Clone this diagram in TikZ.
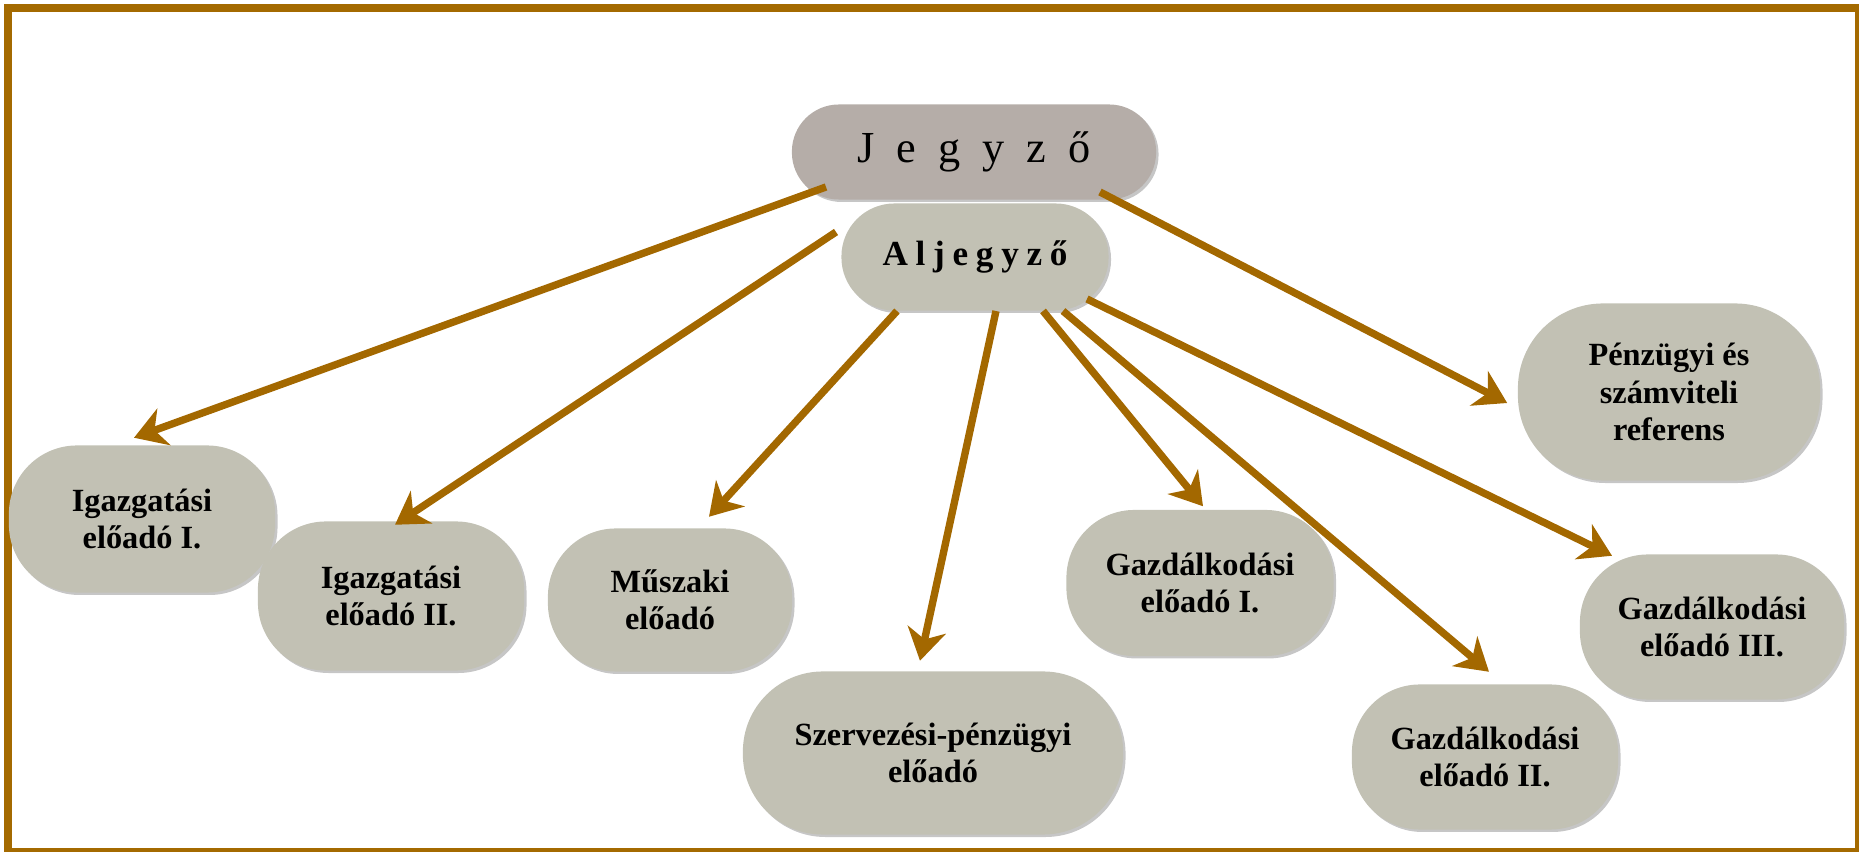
\documentclass[tikz,border=0pt]{standalone}
\usepackage{fontspec}
\setmainfont{Liberation Serif}
\usepackage{tikz}
\usetikzlibrary{calc}
\usetikzlibrary{arrows.meta}
\usetikzlibrary{shadows}
\definecolor{rim}{RGB}{164,106,0}
\definecolor{bronze}{RGB}{163,104,0}
\definecolor{taupe}{RGB}{181,173,168}
\definecolor{stone}{RGB}{194,193,180}
\newcommand{\wgap}{\hspace{0.5em}}
\newcommand{\ngap}{\hspace{0.22em}}
\tikzset{
  box/.style={rectangle, fill=stone, align=center, inner sep=0pt,
    font=\fontsize{9.2}{10.6}\selectfont\bfseries,
    drop shadow={shadow xshift=0.7pt, shadow yshift=-0.7pt, fill=black!50, opacity=.45}},
  link/.style={draw=bronze, line width=2.1pt,
    -{Stealth[length=9pt, width=11pt, inset=2.8pt]}}
}

\begin{document}
\begin{tikzpicture}[x=0.01cm, y=-0.01cm]
            \useasboundingbox (0,0) rectangle (1859,852);
            \draw[rim, line width=2.3pt] (8,8) rectangle (1859,852);
            % top of the chart
            \node[box, fill=taupe, minimum width=3.64cm, minimum height=0.95cm, rounded corners=0.47cm,
                  font=\fontsize{12.6}{14}\selectfont]                 (jegyzo)   at ( 974,152) {J\wgap e\wgap g\wgap y\wgap z\wgap ő};
            \node[box, minimum width=2.67cm, minimum height=1.07cm, rounded corners=0.53cm,
                  font=\fontsize{10}{12}\selectfont\bfseries]          (aljegyzo) at ( 975,257) {A\ngap l\ngap j\ngap e\ngap g\ngap y\ngap z\ngap ő};
            % staff
            \node[box, minimum width=2.66cm, minimum height=1.47cm, rounded corners=0.68cm] (igaz1)    at ( 142,519) {Igazgatási\\előadó I.};
            \node[box, minimum width=2.66cm, minimum height=1.49cm, rounded corners=0.68cm] (igaz2)    at ( 391,596) {Igazgatási\\előadó II.};
            \node[box, minimum width=2.44cm, minimum height=1.43cm, rounded corners=0.68cm] (muszaki)  at ( 670,600) {Műszaki\\előadó};
            \node[box, minimum width=3.80cm, minimum height=1.63cm, rounded corners=0.80cm] (szerv)    at ( 933,753) {Szervezési-pénzügyi\\előadó};
            \node[box, minimum width=2.67cm, minimum height=1.46cm, rounded corners=0.68cm] (gazd1)    at (1200,583) {Gazdálkodási\\előadó I.};
            \node[box, minimum width=2.66cm, minimum height=1.45cm, rounded corners=0.68cm] (gazd2)    at (1485,757) {Gazdálkodási\\előadó II.};
            \node[box, minimum width=2.64cm, minimum height=1.45cm, rounded corners=0.68cm] (gazd3)    at (1712,627) {Gazdálkodási\\előadó III.};
            \node[box, minimum width=3.02cm, minimum height=1.77cm, rounded corners=0.85cm] (penz)     at (1669,392) {Pénzügyi és\\számviteli\\referens};
            % arrows
            \draw[link] ($(jegyzo.center)+(-148,35)$)   -- ($(igaz1.north)+(-8,-7)$);
            \draw[link] ($(aljegyzo.center)+(-139,-25)$) -- ($(igaz2.north)+(4,4)$);
            \draw[link] ($(aljegyzo.center)+(-78,54)$)  -- ($(muszaki.north)+(39,-11)$);
            \draw[link] ($(aljegyzo.center)+(21,54)$)   -- ($(szerv.north)+(-13,-10)$);
            \draw[link] ($(aljegyzo.center)+(68,54)$)   -- ($(gazd1.north)+(3,-3)$);
            \draw[link] ($(aljegyzo.center)+(88,54)$)   -- ($(gazd2.north)+(4,-12)$);
            \draw[link] ($(aljegyzo.center)+(112,42)$)  -- ($(gazd3.north)+(-100,2)$);
            \draw[link] ($(jegyzo.center)+(126,40)$)    -- ($(penz.west)+(-10,11)$);
\end{tikzpicture}
\end{document}
